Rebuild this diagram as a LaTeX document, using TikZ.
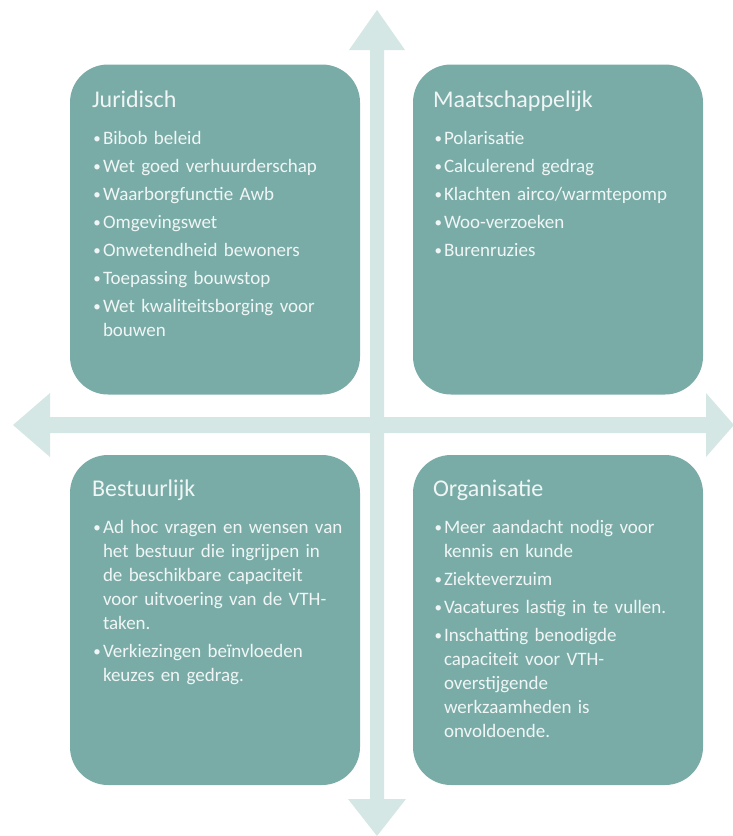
\documentclass[tikz,border=0pt]{standalone}
\usepackage{fontspec}
\setmainfont{Carlito}
\usetikzlibrary{calc}
\definecolor{quadfill}{HTML}{7AACA7}
\definecolor{axisfill}{HTML}{D5E7E4}
\definecolor{quadink}{HTML}{F0F6F5}
\newcommand{\qhead}[1]{\setlength{\parskip}{4pt}{\fontsize{24}{28}\selectfont #1\par}\vspace{9pt}}
\newcommand{\qitem}{\par\hangindent=11pt\hangafter=1\noindent\makebox[11pt][l]{\hspace{1.5pt}\raisebox{1pt}{\fontsize{15}{15}\selectfont •}}}
\newcommand{\qbreak}{\hfil\break}

\begin{document}
\begin{tikzpicture}[x=1pt, y=-1pt,
  quadbox/.style={fill=quadfill, rounded corners=38pt, minimum width=290pt, minimum height=330pt, inner sep=0pt},
  quadtext/.style={text=quadink, text width=262pt, align=left, inner sep=0pt, anchor=base west, font=\fontsize{19}{24}\selectfont},
  axis/.style={fill=axisfill, draw=none}]
\useasboundingbox (0,0) rectangle (732,836);

% axes
\fill[axis] (370,50) -- (349,50) -- (377,10) -- (405,50) -- (384,50) -- (384,799) -- (406,799) -- (377,836) -- (348,799) -- (370,799) -- cycle;
\fill[axis] (50,417) -- (50,393) -- (13,425) -- (50,457) -- (50,433) -- (706,433) -- (706,457) -- (734,425) -- (706,393) -- (706,417) -- cycle;

% quadrants
\node[quadbox] (jur) at (215,229.5) {};
\node[quadbox] (maat) at (558,229.5) {};
\node[quadbox] (best) at (215,620) {};
\node[quadbox] (org) at (558,620) {};

\node[quadtext] (jurtext) at ($(jur.north west)+(22,43)$) {\qhead{Juridisch}
  \qitem Bibob beleid
  \qitem Wet goed verhuurderschap
  \qitem Waarborgfunctie Awb
  \qitem Omgevingswet
  \qitem Onwetendheid bewoners
  \qitem Toepassing bouwstop
  \qitem Wet kwaliteitsborging voor\qbreak bouwen\par};
\node[quadtext] (maattext) at ($(maat.north west)+(20,43)$) {\qhead{Maatschappelijk}
  \qitem Polarisatie
  \qitem Calculerend gedrag
  \qitem Klachten airco/warmtepomp
  \qitem Woo-verzoeken
  \qitem Burenruzies\par};
\node[quadtext] (besttext) at ($(best.north west)+(22,42)$) {\qhead{Bestuurlijk}
  \qitem Ad hoc vragen en wensen van\qbreak het bestuur die ingrijpen in\qbreak de beschikbare capaciteit\qbreak voor uitvoering van de VTH-\qbreak taken.
  \qitem Verkiezingen beïnvloeden\qbreak keuzes en gedrag.\par};
\node[quadtext] (orgtext) at ($(org.north west)+(20,42)$) {\qhead{Organisatie}
  \qitem Meer aandacht nodig voor\qbreak kennis en kunde
  \qitem Ziekteverzuim
  \qitem Vacatures lastig in te vullen.
  \qitem Inschatting benodigde\qbreak capaciteit voor VTH-\qbreak overstijgende\qbreak werkzaamheden is\qbreak onvoldoende.\par};
\end{tikzpicture}
\end{document}
